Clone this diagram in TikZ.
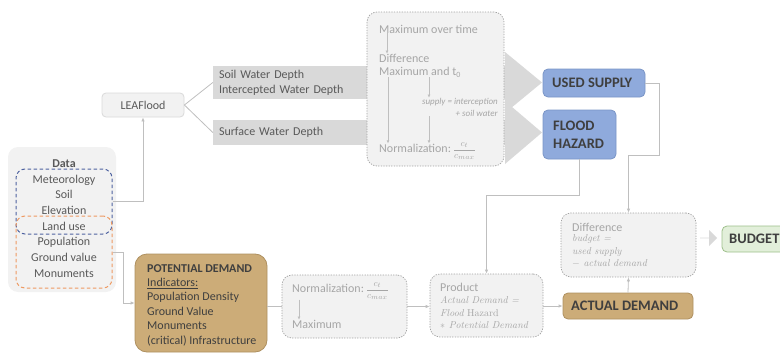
\documentclass[tikz,border=0pt]{standalone}
\usepackage{fontspec}
\setsansfont{Carlito}
\usetikzlibrary{arrows.meta,shapes.arrows}

\definecolor{txtgray}{HTML}{595959}
\definecolor{softtext}{HTML}{A6A6A6}
\definecolor{linegray}{HTML}{BFBFBF}
\definecolor{bandgray}{HTML}{D9D9D9}
\definecolor{panel}{HTML}{F2F2F2}
\definecolor{supblue}{HTML}{8FAADC}
\definecolor{supblueline}{HTML}{7A95C6}
\definecolor{tanfill}{HTML}{CCAC78}
\definecolor{tanline}{HTML}{AE9060}
\definecolor{budgetgreen}{HTML}{E2EFDA}
\definecolor{budgetline}{HTML}{9DBF8A}
\definecolor{dataBlue}{HTML}{4E62A0}
\definecolor{dataOrange}{HTML}{EE9A62}
\definecolor{darktext}{HTML}{3F3F3F}

\newcommand{\cratio}{{\fontsize{9.5}{10}\selectfont$\displaystyle\frac{c_t}{c_{max}}$}}

\tikzset{
  base/.style={rectangle, inner sep=0pt, font=\sffamily},
  panelbox/.style={base, fill=panel, rounded corners=10pt},
  flowbox/.style={base, fill=panel, draw=linegray!85!black, line width=0.7pt,
    dash pattern=on 1.3pt off 1.3pt, rounded corners=10pt},
  bandbox/.style={base, fill=bandgray, text=txtgray, align=left,
    font=\sffamily\fontsize{12}{15}\selectfont},
  keybox/.style={base, rounded corners=5pt, line width=0.8pt},
  bluebox/.style={keybox, fill=supblue, draw=supblueline},
  tanbox/.style={keybox, fill=tanfill, draw=tanline},
  greenbox/.style={keybox, fill=budgetgreen, draw=budgetline},
  keytext/.style={base, anchor=west, align=left, text=darktext,
    font=\sffamily\bfseries\fontsize{14.5}{18}\selectfont},
  softlabel/.style={base, anchor=west, text=softtext,
    font=\sffamily\fontsize{12}{14}\selectfont},
  formula/.style={base, anchor=west, text=softtext,
    font=\rmfamily\itshape\fontsize{10}{12.5}\selectfont},
  conn/.style={draw=linegray, line width=0.8pt},
  arr/.style={conn, -{Latex[length=4pt,width=3.5pt]}},
  inarr/.style={draw=linegray, line width=0.6pt, -{Latex[length=3pt,width=3pt]}},
}

\begin{document}
\begin{tikzpicture}[x=1pt,y=-1pt]
\useasboundingbox (0,0) rectangle (780,356);

% ---------- input data ----------
\node[panelbox, minimum width=108, minimum height=145] (data) at (62,219.5) {};
\node[base, draw=dataBlue, line width=1pt, dash pattern=on 3.5pt off 2.5pt,
  rounded corners=9pt, minimum width=96, minimum height=65] (hydro) at (64,201.5) {};
\node[base, draw=dataOrange, line width=1pt, dash pattern=on 3.5pt off 2.5pt,
  rounded corners=9pt, minimum width=96, minimum height=72] (social) at (64,252) {};
\node[base, text=txtgray, align=center, font=\sffamily\fontsize{12}{15.7}\selectfont]
  (datatxt) at (64,218.5) {\textbf{Data}\\Meteorology\\Soil\\Elevation\\Land use\\Population\\Ground value\\Monuments};

% ---------- flood model ----------
\node[base, fill=panel, draw=bandgray, line width=0.8pt, rounded corners=4pt,
  minimum width=82, minimum height=24, text=txtgray,
  font=\sffamily\fontsize{12}{14}\selectfont] (leaf) at (143,105) {LEAFlood};

% model outputs as broad arrows
\node[bandbox, minimum width=292, minimum height=33, text width=280] (band1) at (359,82.5)
  {Soil Water Depth\\Intercepted Water Depth};
\node[bandbox, minimum width=292, minimum height=25, text width=280] (band2) at (359,132.5)
  {Surface Water Depth};
\fill[bandgray] (505,52) -- (542,82.5) -- (505,113) -- cycle;
\fill[bandgray] (505,101) -- (542,132.5) -- (505,164) -- cycle;

% processing steps of the model output
\node[flowbox, minimum width=137, minimum height=154] (flow) at (435.5,89) {};
\node[softlabel] (maxtime) at (379,29) {Maximum over time};
\node[softlabel] (diffa) at (379,58) {Difference};
\node[softlabel] (difft) at (379,72) {Maximum and t\textsubscript{0}};
\node[base, anchor=east, text=softtext, align=right,
  font=\sffamily\itshape\fontsize{9}{12}\selectfont] (supply) at (498,107)
  {supply = interception\\+ soil water};
\node[softlabel] (norma) at (379,151) {Normalization:\,\cratio};
\draw[inarr] ([xshift=8pt]maxtime.south west) -- ([xshift=8pt]diffa.north west);
\draw[inarr] ([xshift=9pt]difft.south west) -- ([xshift=9pt,yshift=-1pt]norma.north west);
\draw[inarr] (difft.south -| 429,0) -- (supply.north -| 429,0);
\draw[inarr] (supply.south -| 429,0) -- ([yshift=-1pt]norma.north -| 429,0);

% results of the model
\node[bluebox, minimum width=102, minimum height=28] (used) at (594,83) {};
\node[keytext] (usedtxt) at (552,83) {USED SUPPLY};
\node[bluebox, minimum width=73, minimum height=49] (flood) at (579.5,134.5) {};
\node[keytext] (floodtxt) at (553,134.5) {FLOOD\\HAZARD};

% ---------- demand side ----------
\node[tanbox, rounded corners=12pt, minimum width=132, minimum height=98] (potential) at (201,303) {};
\node[base, anchor=west, align=left, text=darktext,
  font=\sffamily\fontsize{12}{14.4}\selectfont] (potentialtxt) at (147,305)
  {\textbf{POTENTIAL DEMAND}\\\underline{Indicators:}\\Population Density\\Ground Value\\Monuments\\(critical) Infrastructure};

\node[flowbox, minimum width=125, minimum height=63] (normb) at (344.5,306.5) {};
\node[softlabel] (normbtxt) at (292,291) {Normalization:\,\cratio};
\node[softlabel] (maxb) at (292,324) {Maximum};
\draw[inarr] ([xshift=7pt]normbtxt.south west) -- ([xshift=7pt]maxb.north west);

\node[flowbox, minimum width=113, minimum height=63] (product) at (486.5,305.5) {};
\node[softlabel] (prodtxt) at (440,287) {Product};
\node[formula, anchor=north west] (prodform) at (440,295)
  {\begin{tabular}{@{}l@{}}Actual\ Demand =\\Flood \upshape Hazard\\$*$ Potential Demand\end{tabular}};

\node[tanbox, minimum width=130, minimum height=26] (actual) at (628,306) {};
\node[keytext] (actualtxt) at (571,306) {ACTUAL DEMAND};

\node[flowbox, minimum width=135, minimum height=64] (diff) at (628.5,245) {};
\node[softlabel] (difftxt) at (572,227) {Difference};
\node[formula, anchor=north west] (diffform) at (572,233)
  {\begin{tabular}{@{}l@{}}budget =\\used supply\\\upshape$-$\itshape\ actual demand\end{tabular}};

\node[single arrow, fill=bandgray, inner sep=0pt, minimum width=16, minimum height=17,
  single arrow head extend=4pt] (toBudget) at (708.5,238) {};
\node[greenbox, minimum width=68, minimum height=26] (budget) at (756,239) {};
\node[keytext] (budgettxt) at (729,239) {BUDGET};

% ---------- connectors ----------
\draw[arr] (hydro.east) -| (leaf.south);
\draw[conn] (leaf.east) -- (band1.west);
\draw[conn] (leaf.east) -- (band2.west);
\draw[arr] (social.east) -- ++(11,0) |- (potential.west);
\draw[conn] (potential.east |- normb.west) -- (normb.west);
\draw[arr] (normb.east) -- (normb.east -| product.west);
\draw[arr] (flood.south) -- ++(0,36) -| (product.north);
\draw[arr] (used.east) -- ++(14,0) -- ++(0,72) -| (diff.north);
\draw[arr] (product.east |- actual.west) -- (actual.west);
\draw[arr] (actual.north) -- (diff.south);
\end{tikzpicture}
\end{document}
